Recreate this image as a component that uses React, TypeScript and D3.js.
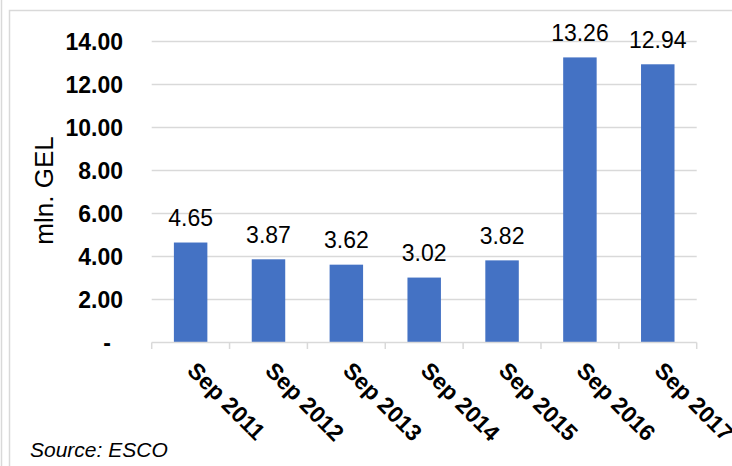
import React from "react";
import * as d3 from "d3";

const categories = ["Sep 2011", "Sep 2012", "Sep 2013", "Sep 2014", "Sep 2015", "Sep 2016", "Sep 2017"];
const values = [4.65, 3.87, 3.62, 3.02, 3.82, 13.26, 12.94];
const yTicks = [0, 2, 4, 6, 8, 10, 12, 14];
const yTitle = "mln. GEL";
const sourceText = "Source: ESCO";

const W = 732;
const H = 466;
const plotLeft = 151.7;
const plotRight = 696.7;
const plotTop = 41.5;
const plotBottom = 342.5;

export default function App() {
  const x = d3.scaleBand<string>().domain(categories).range([plotLeft, plotRight]).padding(0);
  const y = d3.scaleLinear().domain([0, 14]).range([plotBottom, plotTop]);
  const barW = x.bandwidth() * 0.43;
  const grid = "#d9d9d9";
  const font = "'Liberation Sans', Arial, sans-serif";
  const fmt = (v: number) => (v === 0 ? "-" : d3.format(".2f")(v));
  const boundaries = categories.map((c) => x(c) as number).concat([plotRight]);

  return (
    <svg
      width={W}
      height={H}
      style={{ position: "absolute", left: 0, top: 0, background: "#fff" }}
      fontFamily={font}
    >
      <rect x={0} y={0} width={W} height={H} fill="#fff" />
      <line x1={1.5} x2={1.5} y1={0} y2={H} stroke={grid} strokeWidth={1.5} />
      <rect x={9.5} y={10.5} width={W + 20} height={H + 20} fill="none" stroke={grid} strokeWidth={1.5} />

      {yTicks.filter((t) => t !== 0).map((t) => (
        <line key={"g" + t} x1={plotLeft} x2={plotRight} y1={y(t)} y2={y(t)} stroke={grid} strokeWidth={1.3} />
      ))}

      {yTicks.map((t) => (
        <text
          key={"yt" + t}
          x={t === 0 ? 111 : 123}
          y={y(t) + 8.3}
          textAnchor="end"
          fontSize={23}
          fontWeight="bold"
          fill="#000"
        >
          {fmt(t)}
        </text>
      ))}

      {categories.map((c, i) => {
        const cx = (x(c) as number) + x.bandwidth() / 2;
        return (
          <g key={c}>
            <rect x={cx - barW / 2} y={y(values[i])} width={barW} height={y(0) - y(values[i])} fill="#4472C4" />
            <text x={cx} y={y(values[i]) - 16.5} textAnchor="middle" fontSize={23} fill="#000">
              {d3.format(".2f")(values[i])}
            </text>
            <text
              transform={`translate(${cx - 4.6},${plotBottom + 29.5}) rotate(45)`}
              textAnchor="start"
              fontSize={23}
              fontWeight="bold"
              fill="#000"
            >
              {c}
            </text>
          </g>
        );
      })}

      <line x1={plotLeft} x2={plotRight} y1={plotBottom} y2={plotBottom} stroke={grid} strokeWidth={1.5} />
      {boundaries.map((b, i) => (
        <line key={"tk" + i} x1={b} x2={b} y1={plotBottom} y2={plotBottom + 6.5} stroke={grid} strokeWidth={1.5} />
      ))}

      <text transform={`translate(53,190.5) rotate(-90)`} textAnchor="middle" fontSize={26} fill="#000">
        {yTitle}
      </text>

      <text x={30} y={457} fontSize={21} fontStyle="italic" fill="#000">
        {sourceText}
      </text>
    </svg>
  );
}
